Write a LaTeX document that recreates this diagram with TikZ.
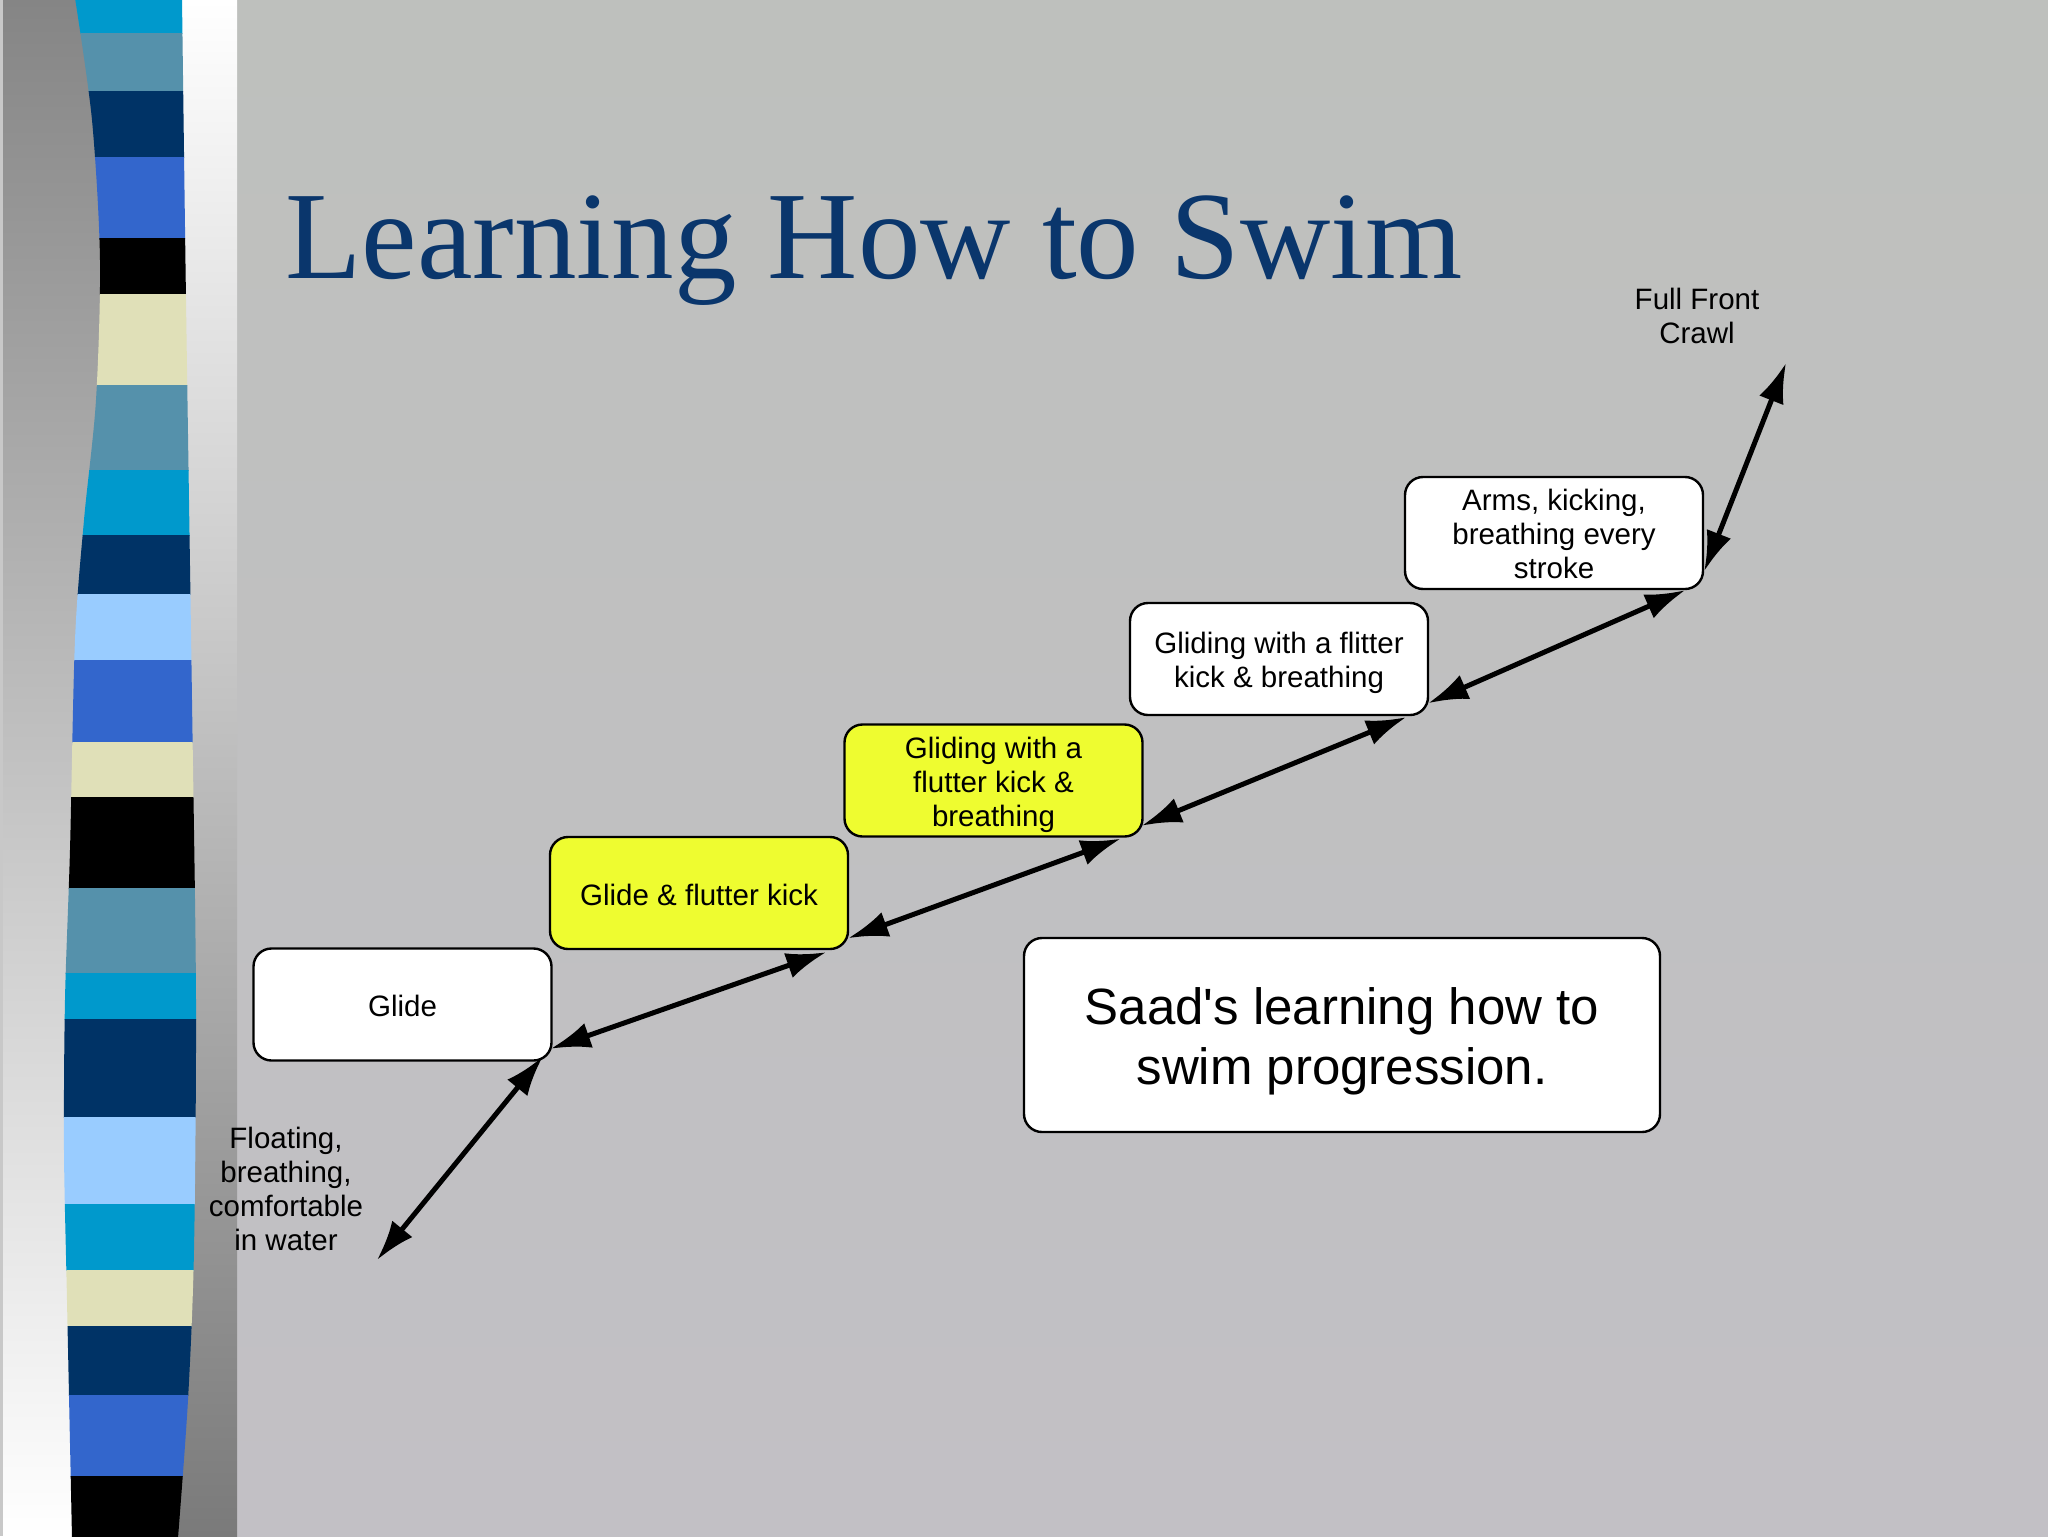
\documentclass[tikz,border=0pt]{standalone}
\usepackage{fontspec}
\setmainfont{Liberation Sans}
\newfontfamily\titlefont{Liberation Serif}
\usetikzlibrary{arrows.meta,calc}
\definecolor{bgtop}{RGB}{190,192,189}
\definecolor{bgbot}{RGB}{194,192,197}
\definecolor{titleblue}{RGB}{10,54,108}
\definecolor{boxyellow}{RGB}{238,252,48}
\definecolor{scyan}{RGB}{0,153,204}
\definecolor{ssteel}{RGB}{85,145,171}
\definecolor{snavy}{RGB}{0,51,102}
\definecolor{sroyal}{RGB}{51,102,204}
\definecolor{sblack}{RGB}{0,0,0}
\definecolor{scream}{RGB}{224,224,184}
\definecolor{slight}{RGB}{153,204,255}
\definecolor{leftgray}{RGB}{133,133,133}
\definecolor{edgegray}{RGB}{200,200,200}
\definecolor{stripmid}{RGB}{228,228,228}
\definecolor{stripbot}{RGB}{122,122,122}
\newcommand{\lowerby}[1]{\rule{0pt}{#1}}
\tikzset{
  stepbox/.style={draw=black, line width=1.2pt, rounded corners=9pt, fill=white,
    minimum width=149pt, minimum height=56pt, align=center, inner sep=0pt,
    font=\fontsize{14.75}{17}\selectfont},
  hilite/.style={stepbox, fill=boxyellow},
  plainlabel/.style={align=center, inner sep=0pt, font=\fontsize{14.75}{17}\selectfont},
  conn/.style={line width=2.5pt, {Latex[length=20pt,width=13pt]}-{Latex[length=20pt,width=13pt]}}
}
\begin{document}
\begin{tikzpicture}[x=0.5pt,y=-0.5pt]
\useasboundingbox (0,0) rectangle (2048,1536);
% background
\shade[top color=bgtop, bottom color=bgbot] (0,0) rectangle (2048,1536);
% left gradient area
\shade[top color=leftgray, bottom color=white] (0,0) rectangle (120,1536);
\fill[edgegray] (0,0) rectangle (3,1536);
% right white strip
\shade[top color=white, middle color=stripmid, bottom color=stripbot] (150,0) rectangle (237,1536);
% striped band
\begin{scope}
\clip plot[smooth] coordinates {(75,-2) (92,120) (100,260) (96,400) (84,520) (75,640) (70,850) (65,1000) (64,1150) (67,1300) (72,1538)}
  -- plot[smooth] coordinates {(178,1538) (188,1400) (194,1250) (196,1000) (192,700) (186,300) (182,-2)} -- cycle;
\foreach \ya/\yb/\c in {0/33/scyan, 33/91/ssteel, 91/157/snavy, 157/238/sroyal, 238/294/sblack,
  294/385/scream, 385/470/ssteel, 470/535/scyan, 535/594/snavy, 594/660/slight, 660/742/sroyal,
  742/797/scream, 797/888/sblack, 888/973/ssteel, 973/1019/scyan, 1019/1117/snavy, 1117/1204/slight,
  1204/1270/scyan, 1270/1326/scream, 1326/1395/snavy, 1395/1476/sroyal, 1476/1540/sblack}
  \fill[\c] (40,\ya) rectangle (220,\yb+1);
\end{scope}
% title
\node[anchor=base west, inner sep=0pt, text=titleblue, font=\titlefont\fontsize{62.5}{70}\selectfont] (title) at (285,278) {Learning How to Swim};
% boxes
\node[stepbox] (glide) at (402.5,1004.5) {\lowerby{12.24pt}Glide};
\node[hilite] (kick) at (699,893) {\lowerby{12.24pt}Glide \& flutter kick};
\node[hilite] (breath) at (993.5,780.5) {\lowerby{14.74pt}Gliding with a\\flutter kick \&\\breathing};
\node[stepbox] (flitter) at (1279,659) {\lowerby{14.74pt}Gliding with a flitter\\kick \& breathing};
\node[stepbox] (arms) at (1554,533) {\lowerby{11.6pt}Arms, kicking,\\breathing every\\stroke};
\node[stepbox, minimum width=318pt, minimum height=97pt, font=\fontsize{25.5}{30}\selectfont] (saad) at (1342,1035) {\lowerby{24.56pt}Saad\textquotesingle s learning how to\\swim progression.};
% labels
\node[plainlabel] (crawl) at (1697,316) {Full Front\\Crawl};
\node[plainlabel] (float) at (286,1189) {Floating,\\breathing,\\comfortable\\in water};
\coordinate (floatend) at (377,1260);
\coordinate (crawlend) at (1786,363);
% connectors
\draw[conn] (floatend) -- ($(glide.south east)+(-10,-5)$);
\draw[conn] ($(glide.south east)+(-2,-13)$) -- ($(kick.south east)+(-23,2)$);
\draw[conn] ($(kick.south east)+(-1,-12)$) -- ($(breath.south east)+(-23,1)$);
\draw[conn] ($(breath.south east)+(-2,-12)$) -- ($(flitter.south east)+(-23,1)$);
\draw[conn] ($(flitter.south east)+(-1,-13)$) -- ($(arms.south east)+(-19,0)$);
\draw[conn] ($(arms.south east)+(0,-19)$) -- (crawlend);
\end{tikzpicture}
\end{document}
